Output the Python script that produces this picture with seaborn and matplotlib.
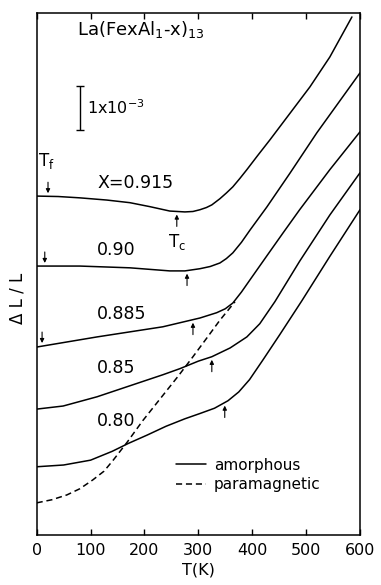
import numpy as np
import pandas as pd
import matplotlib
matplotlib.use("Agg")
import matplotlib.pyplot as plt
import seaborn as sns

# ---- data (T in K, dL/L in units of 1e-3, arbitrary offsets) ----
comp_labels = ["X=0.915", "0.90", "0.885", "0.85", "0.80"]

T_0915 = [0, 40, 80, 130, 173, 210, 247, 275, 290, 303, 315, 325, 340, 352, 364, 377,
          390, 410, 433, 470, 507, 544, 585]
v_0915 = [7.70, 7.69, 7.66, 7.61, 7.55, 7.46, 7.36, 7.34, 7.35, 7.39, 7.44, 7.50, 7.64,
          7.77, 7.91, 8.10, 8.30, 8.62, 8.98, 9.58, 10.18, 10.86, 11.77]

T_090 = [0, 80, 173, 247, 275, 303, 322, 340, 352, 364, 380, 396, 427, 470, 520, 600]
v_090 = [6.11, 6.11, 6.07, 6.00, 6.00, 6.05, 6.10, 6.18, 6.28, 6.41, 6.65, 6.93, 7.45,
         8.22, 9.14, 10.50]

T_0885 = [0, 112, 234, 303, 334, 350, 364, 380, 396, 427, 457, 488, 544, 600]
v_0885 = [4.27, 4.50, 4.73, 4.93, 5.05, 5.14, 5.27, 5.52, 5.80, 6.34, 6.86, 7.39, 8.30, 9.16]

T_085 = [0, 49, 112, 173, 234, 266, 300, 325, 359, 390, 414, 442, 465, 488, 544, 600]
v_085 = [2.86, 2.93, 3.14, 3.39, 3.64, 3.78, 3.95, 4.05, 4.25, 4.50, 4.80, 5.30, 5.76,
         6.22, 7.27, 8.23]

T_080 = [0, 50, 100, 140, 170, 205, 240, 275, 303, 330, 355, 375, 395, 420, 451, 492, 544, 600]
v_080 = [1.55, 1.59, 1.70, 1.90, 2.08, 2.27, 2.47, 2.64, 2.76, 2.88, 3.05, 3.25, 3.53,
         3.98, 4.55, 5.32, 6.33, 7.39]

T_para = [0, 28, 56, 80, 104, 125, 142, 168, 197, 223, 262, 290, 316, 340, 368]
v_para = [0.73, 0.80, 0.91, 1.05, 1.25, 1.45, 1.70, 2.11, 2.60, 3.00, 3.60, 4.05, 4.48,
          4.88, 5.30]

Tf_values = [21, 15, 10]               # freezing temperatures (first three curves)
Tc_values = [260, 279, 290, 325, 349]  # Curie temperatures

x_ticks = [0, 100, 200, 300, 400, 500, 600]

curves_T = [T_0915, T_090, T_0885, T_085, T_080]
curves_v = [v_0915, v_090, v_0885, v_085, v_080]

rows = []
for lab, Ts, vs in zip(comp_labels, curves_T, curves_v):
    for t, v in zip(Ts, vs):
        rows.append({"T": t, "dL": v, "curve": lab, "kind": "amorphous"})
for t, v in zip(T_para, v_para):
    rows.append({"T": t, "dL": v, "curve": "para", "kind": "paramagnetic"})
df = pd.DataFrame(rows)

# ---- style ----
sns.set_style("ticks")
plt.rcParams["font.family"] = ["DejaVu Sans"]
plt.rcParams["axes.linewidth"] = 1.1
plt.rcParams["text.color"] = "black"
plt.rcParams["axes.labelcolor"] = "black"
plt.rcParams["xtick.color"] = "black"
plt.rcParams["ytick.color"] = "black"
plt.rcParams["axes.edgecolor"] = "black"

fig = plt.figure(figsize=(3.81, 5.85), dpi=100)
ax = fig.add_axes([0.0963, 0.0855, 0.8486, 0.8923])

sns.lineplot(data=df, x="T", y="dL", units="curve", estimator=None,
             style="kind", style_order=["amorphous", "paramagnetic"],
             dashes={"amorphous": "", "paramagnetic": (4, 2.5)},
             color="black", linewidth=1.1, sort=False, ax=ax, legend=True)

ax.set_xlim(0, 600)
ax.set_ylim(0, 11.86)
ax.set_xticks(x_ticks)
ax.set_xticklabels([str(t) for t in x_ticks])
ax.set_yticks([])
ax.tick_params(axis="x", direction="in", length=4, width=1, top=True,
               labelsize=11.5, pad=6, colors="black")
for s in ax.spines.values():
    s.set_color("black")

ax.set_xlabel("T(K)", fontsize=11.5, labelpad=3, color="black")
ax.set_ylabel("Δ L / L", fontsize=12, color="black")
ax.yaxis.set_label_coords(-0.033, 0.454)

# legend
handles, labels = ax.get_legend_handles_labels()
keep = [(h, l) for h, l in zip(handles, labels) if l in ("amorphous", "paramagnetic")]
leg = ax.legend([h for h, _ in keep], [l for _, l in keep], frameon=False,
                loc="upper left", bbox_to_anchor=(0.43, 0.148), fontsize=11,
                handlelength=2.0, handletextpad=0.5, labelspacing=0.3,
                borderpad=0, borderaxespad=0)
for t in leg.get_texts():
    t.set_color("black")

# composition labels
label_pos_v = [8.0, 6.48, 5.02, 3.80, 2.59]
for lab, vv in zip(comp_labels, label_pos_v):
    ax.text(112, vv, lab, fontsize=12.5, ha="left", va="center", color="black")

# title formula
ax.text(75, 11.48, "La(FexAl$\\mathregular{_{1}}$-x)$\\mathregular{_{13}}$",
        fontsize=13, ha="left", va="center", color="black")

# scale bar 1x10^-3
ax.errorbar([80], [9.70], yerr=[0.5], color="black", capsize=3, lw=1.0,
            capthick=1.0, fmt="none")
ax.text(93, 9.70, "1x10$^{-3}$", fontsize=11.5, ha="left", va="center", color="black")

# Tf / Tc labels
ax.text(2, 8.50, "T$\\mathregular{_f}$", fontsize=12, ha="left", va="center", color="black")
ax.text(244, 6.66, "T$\\mathregular{_c}$", fontsize=12, ha="left", va="center", color="black")

ap = dict(arrowstyle="-|>", lw=0.8, color="black", mutation_scale=6,
          shrinkA=0, shrinkB=0)
for Tf, Ts, vs in zip(Tf_values, curves_T, curves_v):
    vc = np.interp(Tf, Ts, vs)
    ax.annotate("", xy=(Tf, vc + 0.07), xytext=(Tf, vc + 0.32), arrowprops=ap)
for Tc, Ts, vs in zip(Tc_values, curves_T, curves_v):
    vc = np.interp(Tc, Ts, vs)
    ax.annotate("", xy=(Tc, vc - 0.07), xytext=(Tc, vc - 0.34), arrowprops=ap)

fig.savefig("out.png", dpi=100)
